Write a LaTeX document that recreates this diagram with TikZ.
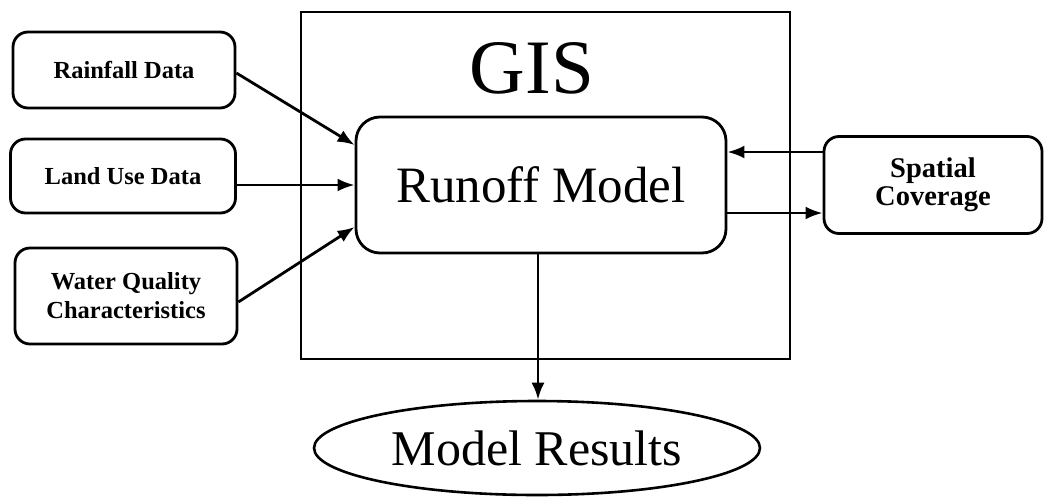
\documentclass[tikz,border=0pt]{standalone}
\usepackage{fontspec}
\setmainfont{Liberation Serif}
\usetikzlibrary{arrows.meta,shapes.geometric}

\tikzset{
  inbox/.style={draw, line width=2.8pt, rounded corners=15pt, align=center,
    inner sep=0pt, font=\bfseries\fontsize{24.5}{29}\selectfont},
  modelbox/.style={draw, line width=2.8pt, rounded corners=24pt, inner sep=0pt,
    font=\fontsize{51}{60}\selectfont},
  resultshape/.style={draw, ellipse, line width=2.6pt, inner sep=0pt,
    font=\fontsize{50}{58}\selectfont},
  frame/.style={draw, line width=2.6pt},
  arr/.style={line width=2.8pt, -{Latex[length=17pt, width=13pt]}}
}

\begin{document}
\begin{tikzpicture}[x=1pt, y=-1pt]
  \useasboundingbox (0,0) rectangle (1044,496);

  % GIS frame with its title
  \draw[frame] (301,12) rectangle (790,359);
  \node[anchor=base, font=\fontsize{77}{80}\selectfont, inner sep=0pt] (gis) at (532,93) {GIS};

  % central model
  \node[modelbox, minimum width=370pt, minimum height=136pt] (run) at (541,185) {Runoff Model};

  % input data
  \node[inbox, minimum width=222pt, minimum height=76pt] (rain) at (124,70) {Rainfall Data};
  \node[inbox, minimum width=225pt, minimum height=74pt] (land) at (123,176) {Land Use Data};
  \node[inbox, minimum width=222pt, minimum height=96pt] (water) at (126,296) {Water Quality\\Characteristics};

  % spatial coverage
  \node[inbox, minimum width=218pt, minimum height=97pt,
        font=\bfseries\fontsize{28.5}{28}\selectfont] (sp) at (933,185) {Spatial\\Coverage};

  % output
  \node[resultshape, minimum width=446pt, minimum height=94pt] (res) at (537,448) {Model Results};

  % connectors
  \coordinate (rw1) at ([yshift=40pt]run.west);
  \coordinate (rw3) at ([yshift=-42pt]run.west);
  \coordinate (re1) at ([yshift=33pt]run.east);
  \coordinate (re2) at ([yshift=-28pt]run.east);
  \coordinate (rs) at ([xshift=-3pt]run.south);

  \draw[arr] ([yshift=-3pt]rain.east) -- (rw1);
  \draw[arr] (land.east |- run.west) -- (run.west);
  \draw[arr] ([yshift=-6pt]water.east) -- (rw3);
  \draw[arr] (re1 -| sp.west) -- (re1);
  \draw[arr] (re2) -- (re2 -| sp.west);
  \draw[arr] (rs) -- (rs |- res.north);
\end{tikzpicture}
\end{document}
